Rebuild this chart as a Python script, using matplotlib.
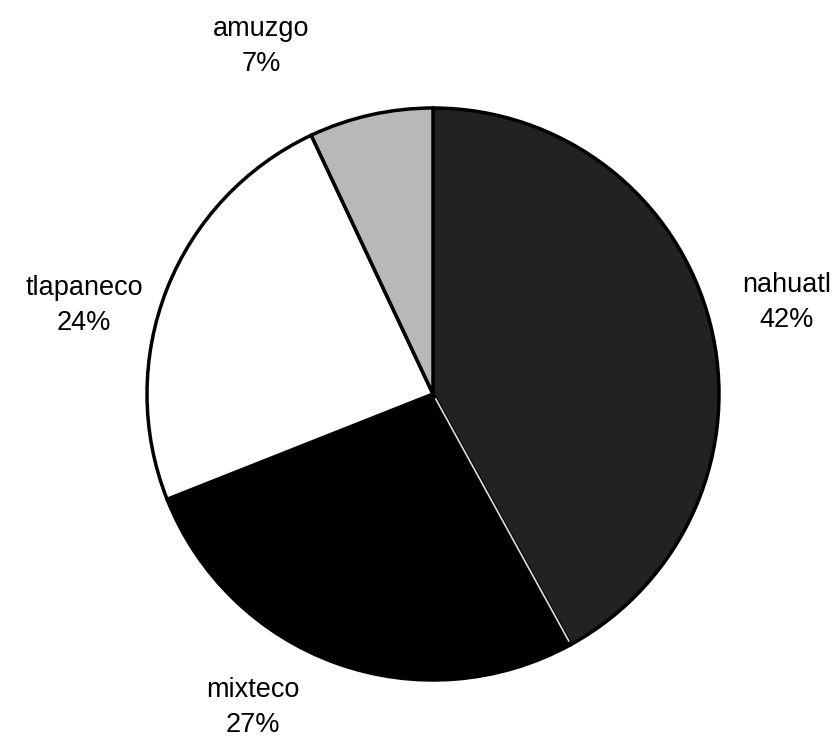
import matplotlib.pyplot as plt
import numpy as np

# datos del grafico
lenguas = ["nahuatl", "mixteco", "tlapaneco", "amuzgo"]
porcentajes = [42, 27, 24, 7]
colores = ["#222222", "#000000", "#ffffff", "#b8b8b8"]

# posicion de cada etiqueta (en unidades del radio)
pos_etiquetas = {
    "nahuatl": (1.235, 0.32),
    "mixteco": (-0.63, -1.095),
    "tlapaneco": (-1.22, 0.31),
    "amuzgo": (-0.60, 1.215),
}

plt.rcParams['font.family'] = ['Liberation Sans', 'DejaVu Sans']

fig = plt.figure(figsize=(8.34, 7.41), dpi=100)
ax = fig.add_axes([0, 0, 1, 1])

wedges, texts = ax.pie(porcentajes, labels=lenguas, colors=colores,
                       startangle=90, counterclock=False,
                       wedgeprops=dict(edgecolor="black", linewidth=2.5),
                       textprops=dict(fontsize=19.5))

# etiquetas con nombre y porcentaje
for t, nombre, p in zip(texts, lenguas, porcentajes):
    t.set_text(f"{nombre}\n{p}%")
    t.set_position(pos_etiquetas[nombre])
    t.set_ha("center")
    t.set_va("center")
    t.set_linespacing(1.45)

# linea blanca fina entre nahuatl y mixteco (como en el original)
ang = np.deg2rad(wedges[0].theta1)
ax.plot([0.02 * np.cos(ang), 0.985 * np.cos(ang)],
        [0.02 * np.sin(ang), 0.985 * np.sin(ang)],
        color="#dddddd", linewidth=1.2, zorder=5)

r = 286
cx, cy = 433, 394
ax.set_xlim(-cx / r, (834 - cx) / r)
ax.set_ylim(-(741 - cy) / r, cy / r)
ax.set_aspect("equal")
ax.axis("off")

fig.savefig("out.png", dpi=100, facecolor="white")
